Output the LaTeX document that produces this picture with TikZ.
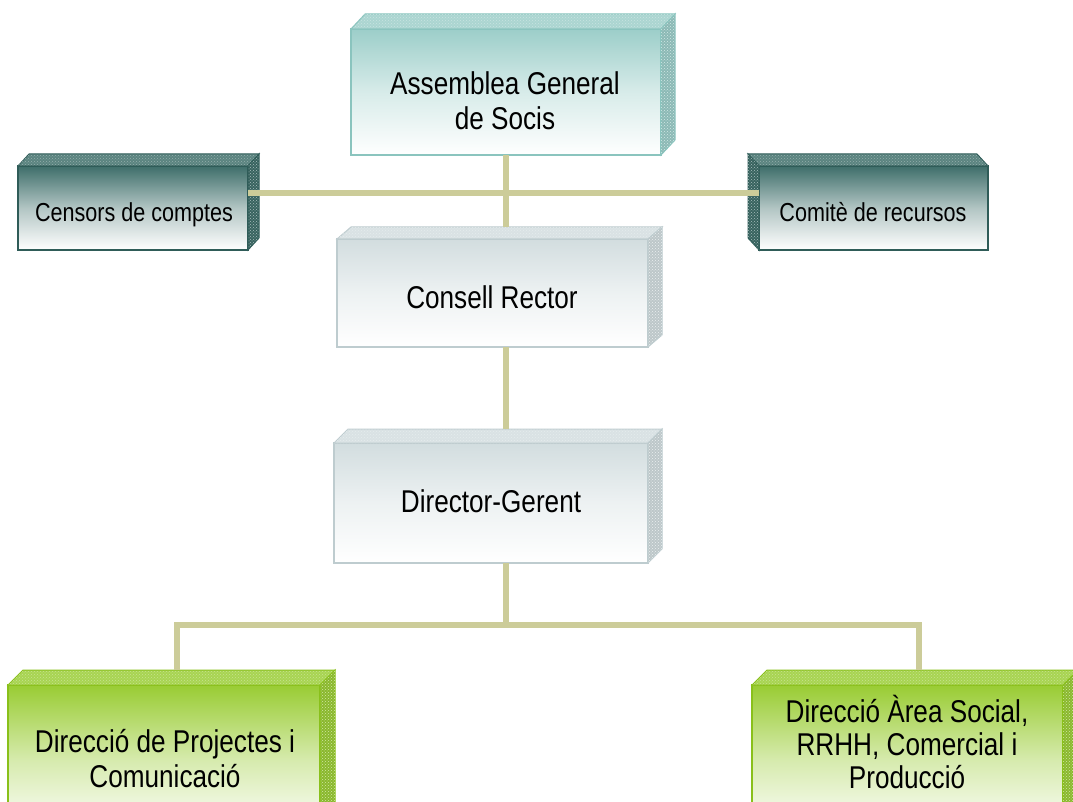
\documentclass[tikz,border=0pt]{standalone}
\usepackage{fontspec}
\setmainfont{Liberation Sans}[FakeStretch=0.83]
\usetikzlibrary{calc,patterns}
\definecolor{tealA}{RGB}{156,206,201}
\definecolor{tealAb}{RGB}{138,196,190}
\definecolor{tealD}{RGB}{62,110,106}
\definecolor{tealDb}{RGB}{47,92,88}
\definecolor{greyA}{RGB}{210,221,223}
\definecolor{greyAb}{RGB}{190,204,207}
\definecolor{greenA}{RGB}{153,204,51}
\definecolor{greenAb}{RGB}{137,192,26}
\definecolor{linkc}{RGB}{204,204,153}
\tikzset{
  front/.style={draw=#1b, line width=1.6pt, outer sep=0pt, inner sep=0pt,
    anchor=north west, top color=#1, bottom color=white, middle color=#1!40!white},
  topf/.style={fill=#1!85!white, draw=#1b, line width=1pt,
    postaction={pattern=crosshatch dots, pattern color=white!45!#1}},
  sidef/.style={fill=#1!90!black, draw=#1b, line width=1pt,
    postaction={pattern=crosshatch dots, pattern color=white!55!#1}},
  link/.style={draw=linkc, line width=6pt, line join=miter},
  big/.style={font=\fontsize{31.5}{35}\selectfont, align=center, inner sep=0pt},
  small/.style={font=\fontsize{26}{30}\selectfont, inner sep=0pt}
}
\newcommand\bevelR[4]{%
  \path[topf=#4] (#1.north west) -- ++(#2,#3) -- ($(#1.north east)+(#2,#3)$) -- (#1.north east) -- cycle;
  \path[sidef=#4] (#1.north east) -- ++(#2,#3) -- ($(#1.south east)+(#2,#3)$) -- (#1.south east) -- cycle;}
\newcommand\bevelL[4]{%
  \path[topf=#4] (#1.north west) -- ++(#2,#3) -- ($(#1.north east)+(#2,#3)$) -- (#1.north east) -- cycle;
  \path[sidef=#4] (#1.north west) -- ++(#2,#3) -- ($(#1.south west)+(#2,#3)$) -- (#1.south west) -- cycle;}
\begin{document}
\begin{tikzpicture}[x=1pt,y=-1pt]
\useasboundingbox (0,0) rectangle (1073,802);
\clip (0,0) rectangle (1073,802);
% boxes
\node[front=tealA, minimum width=310pt, minimum height=126pt] (asm) at (351,29) {};
\bevelR{asm}{14}{-15}{tealA}
\node[front=tealD, minimum width=230pt, minimum height=84pt] (cen) at (18,166) {};
\bevelR{cen}{11}{-12}{tealD}
\node[front=tealD, minimum width=229pt, minimum height=84pt] (com) at (759,166) {};
\bevelL{com}{-11}{-12}{tealD}
\node[front=greyA, minimum width=311pt, minimum height=108pt] (con) at (337,239) {};
\bevelR{con}{14}{-12}{greyA}
\node[front=greyA, minimum width=314pt, minimum height=120pt] (dir) at (334,443) {};
\bevelR{dir}{14}{-14}{greyA}
\node[front=greenA, minimum width=312pt, minimum height=150pt] (bl) at (8,685) {};
\bevelR{bl}{15}{-15}{greenA}
\node[front=greenA, minimum width=311pt, minimum height=150pt] (br) at (752,685) {};
\bevelR{br}{15}{-15}{greenA}
% junction coordinates
\coordinate (conback) at ($(con.north)+(14,-12)$);
\coordinate (dirback) at ($(dir.north)+(14,-14)$);
\coordinate (blback) at ($(bl.north)+(15,-15)$);
\coordinate (brback) at ($(br.north)+(15,-15)$);
\coordinate (j1) at (505,193);
\coordinate (jb) at (505,625);
\coordinate (jl) at (177,625);
\coordinate (jr) at (919,625);
% connectors
\draw[link] (cen.east |- j1) -- (com.west |- j1);
\draw[link] (asm.south) -- (asm.south |- conback);
\draw[link] (con.south -| asm.south) -- (dirback -| asm.south);
\draw[link] (dir.south -| asm.south) -- (asm.south |- jb);
\draw[link] (jl |- blback) -- (jl) -- (jr) -- (jr |- brback);
% texts
\node[big] (tasm) at (505,101) {Assemblea General\\de Socis};
\node[small, anchor=base] (tcen) at (134,222) {Censors de comptes};
\node[small, anchor=base] (tcom) at (873,222) {Comitè de recursos};
\node[big, anchor=base] (tcon) at (492,308) {Consell Rector};
\node[big, anchor=base] (tdir) at (491,512) {Director-Gerent};
\node[big] (tbl) at (165,759) {Direcció de Projectes i\\Comunicació};
\node[big, font=\fontsize{31.5}{33}\selectfont] (tbr) at (907,742) {Direcció Àrea Social,\\RRHH, Comercial i\\Producció};
\end{tikzpicture}
\end{document}
